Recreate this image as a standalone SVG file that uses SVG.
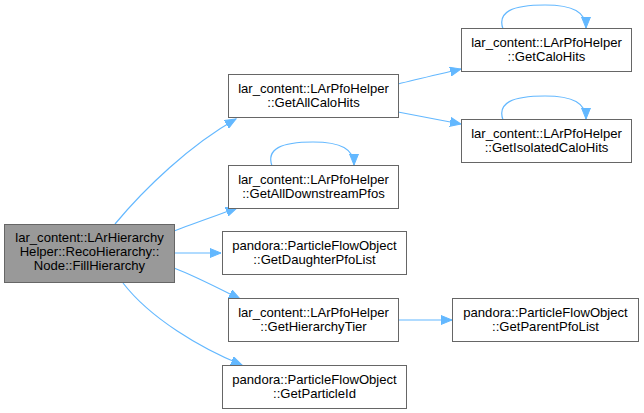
<svg xmlns="http://www.w3.org/2000/svg" width="644" height="413" viewBox="0 0 644 413">
<style>
.n rect{fill:#fff;stroke:#666;stroke-width:1}
.m rect{fill:#999;stroke:#666;stroke-width:1}
text{font-family:"Liberation Sans",Arial,sans-serif;font-size:13.1px;fill:#000;text-anchor:middle}
.e path{fill:none;stroke:#63b8ff;stroke-width:1.2}
</style>
<defs>
<marker id="a" markerUnits="userSpaceOnUse" markerWidth="12" markerHeight="10" refX="11" refY="5" orient="auto">
<path d="M0,0.5 L11,5 L0,9.5 Z" fill="#63b8ff" stroke="#63b8ff" stroke-width="1"/>
</marker>
</defs>
<g class="e">
<path d="M115,224 C145,188 190,145 236,119" marker-end="url(#a)"/>
<path d="M174,231 C192,224 215,216 237,208" marker-end="url(#a)"/>
<path d="M174,253 L221,253" marker-end="url(#a)"/>
<path d="M174,268 C195,276 218,288 240,299" marker-end="url(#a)"/>
<path d="M123,283 C150,318 200,348 242,365" marker-end="url(#a)"/>
<path d="M398,84 C418,79 440,74 461,69" marker-end="url(#a)"/>
<path d="M398,112 C418,116 440,120 461,124" marker-end="url(#a)"/>
<path d="M398,320 L452,320" marker-end="url(#a)"/>
<path d="M503,29 C497,12 512,5 545,5 C573,5 586,12 586,28" marker-end="url(#a)"/>
<path d="M503,120 C497,103 512,96 545,96 C573,96 586,103 586,119" marker-end="url(#a)"/>
<path d="M272,166 C266,149 281,142 313,142 C341,142 354,149 354,165" marker-end="url(#a)"/>
</g>
<g id="node_main" class="m"><rect x="4.5" y="224.5" width="170" height="58"/><text x="89.5" y="242">lar_content::LArHierarchy</text><text x="89.5" y="256">Helper::RecoHierarchy::</text><text x="89.5" y="270">Node::FillHierarchy</text></g>
<g id="node_getallcalohits" class="n"><rect x="228.5" y="74.5" width="170" height="43"/><text x="313.5" y="93">lar_content::LArPfoHelper</text><text x="313.5" y="107">::GetAllCaloHits</text></g>
<g id="node_getalldownstreampfos" class="n"><rect x="228.5" y="165.5" width="170" height="43"/><text x="313.5" y="184">lar_content::LArPfoHelper</text><text x="313.5" y="198">::GetAllDownstreamPfos</text></g>
<g id="node_getdaughterpfolist" class="n"><rect x="222.5" y="231.5" width="184" height="43"/><text x="314.5" y="250">pandora::ParticleFlowObject</text><text x="314.5" y="264">::GetDaughterPfoList</text></g>
<g id="node_gethierarchytier" class="n"><rect x="228.5" y="298.5" width="170" height="43"/><text x="313.5" y="317">lar_content::LArPfoHelper</text><text x="313.5" y="331">::GetHierarchyTier</text></g>
<g id="node_getparticleid" class="n"><rect x="222.5" y="365.5" width="184" height="43"/><text x="314.5" y="384">pandora::ParticleFlowObject</text><text x="314.5" y="398">::GetParticleId</text></g>
<g id="node_getcalohits" class="n"><rect x="461.5" y="28.5" width="170" height="43"/><text x="546.5" y="47">lar_content::LArPfoHelper</text><text x="546.5" y="61">::GetCaloHits</text></g>
<g id="node_getisolatedcalohits" class="n"><rect x="461.5" y="119.5" width="170" height="43"/><text x="546.5" y="138">lar_content::LArPfoHelper</text><text x="546.5" y="152">::GetIsolatedCaloHits</text></g>
<g id="node_getparentpfolist" class="n"><rect x="452.5" y="298.5" width="186" height="43"/><text x="545.5" y="317">pandora::ParticleFlowObject</text><text x="545.5" y="331">::GetParentPfoList</text></g>
</svg>
